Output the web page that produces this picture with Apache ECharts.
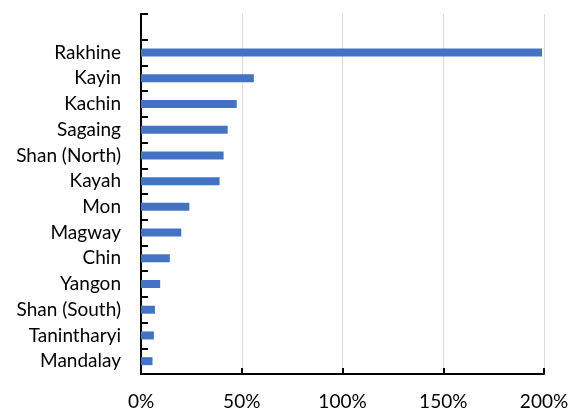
<!DOCTYPE html>
<html>
<head>
<meta charset="utf-8">
<script src="https://cdn.jsdelivr.net/npm/echarts@6/dist/echarts.min.js"></script>
<style>
html,body{margin:0;padding:0;background:#fff;}
#chart{width:570px;height:409px;}
</style>
</head>
<body>
<div id="chart"></div>
<script>
var categories = ['', 'Rakhine', 'Kayin', 'Kachin', 'Sagaing', 'Shan (North)', 'Kayah', 'Mon', 'Magway', 'Chin', 'Yangon', 'Shan (South)', 'Tanintharyi', 'Mandalay'];
var values = [null, 1.99, 0.56, 0.475, 0.43, 0.41, 0.39, 0.24, 0.20, 0.143, 0.095, 0.069, 0.064, 0.057];
var xTicks = [0, 0.5, 1, 1.5, 2];

var chart = echarts.init(document.getElementById('chart'), null, {renderer: 'canvas'});
var font = 'Lato, "Open Sans", sans-serif';
chart.setOption({
  animation: false,
  grid: {left: 141, right: 26, top: 14, bottom: 35, containLabel: false, outerBoundsMode: 'none'},
  xAxis: {
    type: 'value',
    min: xTicks[0],
    max: xTicks[xTicks.length - 1],
    interval: 0.5,
    axisLine: {show: true, lineStyle: {color: '#000', width: 2}},
    axisTick: {show: true, inside: true, length: 6, lineStyle: {color: '#000', width: 2}},
    axisLabel: {
      margin: 18,
      color: '#000',
      fontSize: 19,
      fontFamily: font,
      formatter: function (v) { return Math.round(v * 100) + '%'; }
    },
    splitLine: {show: true, lineStyle: {color: '#d9d9d9', width: 1}}
  },
  yAxis: {
    type: 'category',
    inverse: true,
    data: categories,
    axisLine: {show: true, lineStyle: {color: '#000', width: 2}},
    axisTick: {show: true, inside: true, length: 7, lineStyle: {color: '#000', width: 2}},
    axisLabel: {margin: 20, color: '#000', fontSize: 19, fontFamily: font},
    splitLine: {show: false}
  },
  series: [{
    type: 'bar',
    data: values,
    barWidth: 8,
    itemStyle: {color: '#4472c4'}
  }]
});
</script>
</body>
</html>
